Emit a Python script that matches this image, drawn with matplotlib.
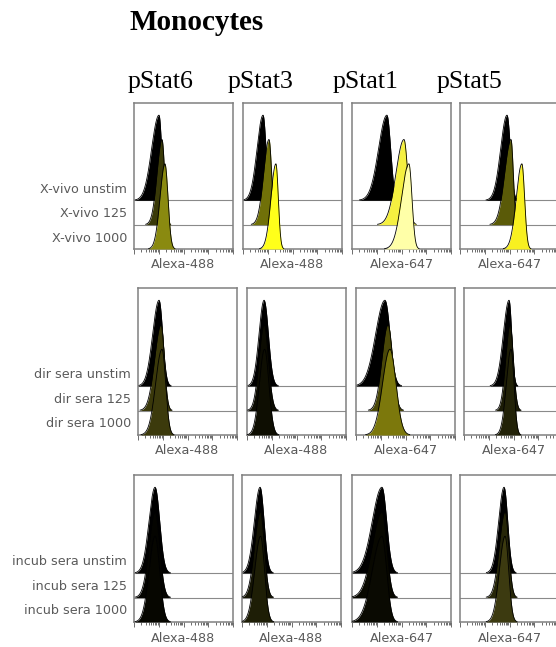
import numpy as np
import matplotlib
matplotlib.use("Agg")
from matplotlib import pyplot as plt
from matplotlib import transforms

W, H = 556, 647

columns = ['pStat6', 'pStat3', 'pStat1', 'pStat5']
channels = ['Alexa-488', 'Alexa-488', 'Alexa-647', 'Alexa-647']
row_names = [
    ['X-vivo unstim', 'X-vivo 125', 'X-vivo 1000'],
    ['dir sera unstim', 'dir sera 125', 'dir sera 1000'],
    ['incub sera unstim', 'incub sera 125', 'incub sera 1000'],
]

# peak position, left foot, right foot (log10 decades) for unstim / 125 / 1000
xvivo_peaks = [
    [(1.01, 0.12, 1.33), (1.13, 0.53, 1.45), (1.25, 0.65, 1.62)],
    [(0.81, 0.08, 1.17), (1.05, 0.40, 1.37), (1.33, 0.73, 1.62)],
    [(1.41, 0.40, 1.86), (2.10, 1.13, 2.55), (2.30, 1.41, 2.67)],
    [(1.90, 1.13, 2.30), (2.06, 1.29, 2.34), (2.50, 1.82, 2.83)],
]
dirsera_peaks = [
    [(0.85, 0.08, 1.29), (0.93, 0.16, 1.33), (0.97, 0.20, 1.41)],
    [(0.69, 0.08, 1.21), (0.69, 0.08, 1.21), (0.71, 0.08, 1.23)],
    [(1.17, 0.04, 1.78), (1.29, 0.57, 1.86), (1.37, 0.48, 2.10)],
    [(1.82, 1.13, 2.14), (1.86, 1.33, 2.26), (1.90, 1.33, 2.26)],
]
incub_peaks = [
    [(0.85, 0.12, 1.41), (0.85, 0.12, 1.41), (0.85, 0.12, 1.41)],
    [(0.73, 0.04, 1.21), (0.74, 0.04, 1.22), (0.75, 0.04, 1.23)],
    [(1.21, 0.04, 1.78), (1.21, 0.04, 1.78), (1.21, 0.04, 1.78)],
    [(1.78, 1.13, 2.22), (1.82, 1.13, 2.26), (1.82, 1.13, 2.26)],
]
all_peaks = [xvivo_peaks, dirsera_peaks, incub_peaks]

xvivo_colors = [
    ['#000000', '#3a3a08', '#8a8a10'],
    ['#000000', '#707008', '#ffff1a'],
    ['#000000', '#f5f040', '#ffffa8'],
    ['#000000', '#5a5a08', '#f8f020'],
]
dirsera_colors = [
    ['#000000', '#3a380a', '#3c3a0c'],
    ['#000000', '#0c0c02', '#0e0e02'],
    ['#000000', '#4a4808', '#7c780c'],
    ['#000000', '#1c1c06', '#222208'],
]
incub_colors = [
    ['#000000', '#040400', '#060600'],
    ['#000000', '#141404', '#1e1e06'],
    ['#000000', '#080800', '#0a0a02'],
    ['#000000', '#262608', '#3c3a10'],
]
all_colors = [xvivo_colors, dirsera_colors, incub_colors]

# box geometry in pixels: (top, bottom, lefts)
rows_px = [
    (103, 249, [134, 243, 352, 460]),
    (288, 435, [138, 247, 356, 464]),
    (475, 622, [134, 242, 352, 460]),
]
box_w = 99
peak_h = 3.5

fig = plt.figure(figsize=(W / 100, H / 100), dpi=100)
fig.text(130 / W, 1 - 30 / H, 'Monocytes', family='Liberation Serif',
         weight='bold', fontsize=21, ha='left', va='baseline')
head_x = [128, 228, 333, 437]
for hx, name in zip(head_x, columns):
    fig.text(hx / W, 1 - 88 / H, name, family='Liberation Serif',
             fontsize=18.5, ha='left', va='baseline')

x = np.linspace(0, 4, 1000)
minor = [d + np.log10(k) for d in range(4) for k in range(2, 10)]

for r, (top, bot, lefts) in enumerate(rows_px):
    for c, left in enumerate(lefts):
        ax = fig.add_axes([left / W, 1 - bot / H, box_w / W, (bot - top) / H])
        ax.set_xlim(0, 4)
        ax.set_ylim(0, 6)
        for off in (1, 2):
            ax.axhline(off, color='#8a8a8a', lw=0.8, zorder=1)
        # back to front: unstim on top of the stack
        for k in range(3):
            off = 2 - k
            pc, lf, rf = all_peaks[r][c][k]
            s = np.where(x < pc, (pc - lf) / 3.0, (rf - pc) / 3.0)
            y = peak_h * np.exp(-0.5 * ((x - pc) / s) ** 2)
            inside = y > 0.015
            xs, ys = x[inside], y[inside]
            ax.fill_between(xs, off, off + ys, color=all_colors[r][c][k],
                            lw=0, zorder=2 + k)
            ax.plot(xs, off + ys, color='black', lw=0.6, zorder=2 + k)
        ax.set_yticks([])
        ax.set_xticks(range(5))
        ax.set_xticks(minor, minor=True)
        ax.tick_params(axis='x', which='both', direction='out', labelbottom=False,
                       color='#555555', width=0.6)
        ax.tick_params(axis='x', which='major', length=3.5)
        ax.tick_params(axis='x', which='minor', length=2)
        for sp in ax.spines.values():
            sp.set_color('#808080')
            sp.set_linewidth(1.1)
        ax.text(0.5, -16 / (bot - top), channels[c], transform=ax.transAxes,
                ha='center', va='center', fontsize=9.2, color='#5a5a5a')
        if c == 0:
            tr = transforms.blended_transform_factory(ax.transAxes, ax.transData)
            for k in range(3):
                off = 2 - k
                ax.text(-7 / box_w, off + 0.45, row_names[r][k], transform=tr,
                        ha='right', va='center', fontsize=9.2, color='#5a5a5a')

fig.savefig('out.png', dpi=100)
